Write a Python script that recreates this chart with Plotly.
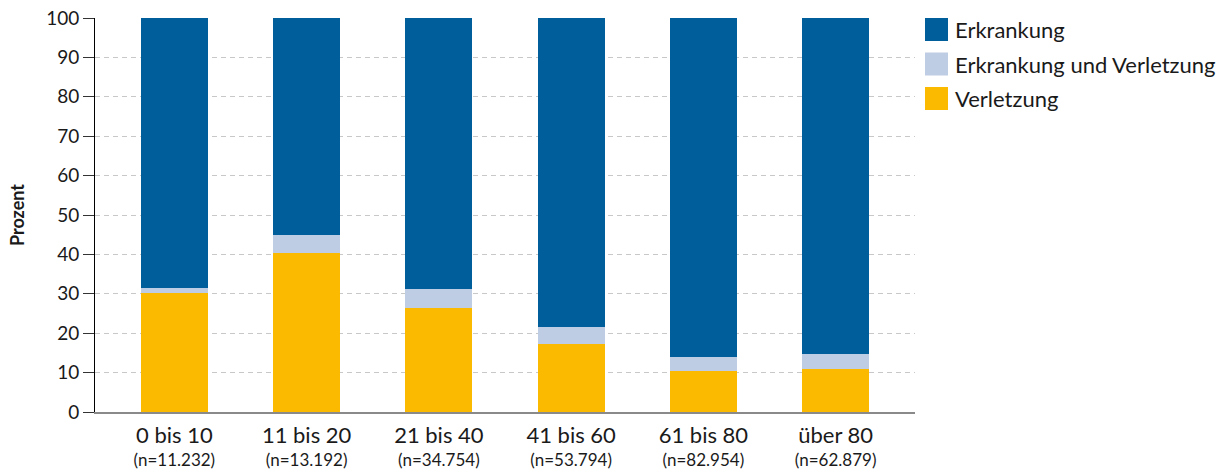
import plotly.graph_objects as go

# data (percent per age group)
groups = ["0 bis 10", "11 bis 20", "21 bis 40", "41 bis 60", "61 bis 80", "über 80"]
counts = ["11.232", "13.192", "34.754", "53.794", "82.954", "62.879"]
verletzung = [30.2, 40.4, 26.5, 17.3, 10.4, 10.9]
beides = [1.3, 4.5, 4.7, 4.3, 3.6, 3.8]
erkrankung = [round(100 - v - b, 1) for v, b in zip(verletzung, beides)]

names = ["Erkrankung", "Erkrankung und Verletzung", "Verletzung"]
colors = ["#005E9B", "#BFCDE4", "#FBB900"]

FONT = "Lato"

# small base font keeps the two label lines close together
labels = [f"<span style='font-size:22px'>{g}</span><br>(n={n})" for g, n in zip(groups, counts)]

fig = go.Figure()
# stacked from bottom: Verletzung, beides, Erkrankung
for name, vals, col in [(names[2], verletzung, colors[2]),
                        (names[1], beides, colors[1]),
                        (names[0], erkrankung, colors[0])]:
    fig.add_trace(go.Bar(x=labels, y=vals, name=name, marker=dict(color=col, line=dict(width=0)),
                         width=0.505, showlegend=False))

# legend drawn by hand so the swatches are as large as in the reference
# (plot area is 820 x 394 px)
shapes = []
annotations = []
for i, (name, col) in enumerate(zip(names, colors)):
    top = i * 34.5
    shapes.append(dict(type="rect", xref="paper", yref="paper",
                       x0=830 / 820, x1=853 / 820,
                       y0=(394 - top - 23) / 394, y1=(394 - top) / 394,
                       fillcolor=col, line=dict(width=0)))
    annotations.append(dict(xref="paper", yref="paper", x=858 / 820, y=(394 - top - 11.5) / 394,
                            text=name, showarrow=False, xanchor="left", yanchor="middle",
                            font=dict(family=FONT, size=22, color="#1a1a1a")))

fig.update_layout(
    barmode="stack",
    width=1231, height=470,
    margin=dict(l=95, r=316, t=18, b=58),
    plot_bgcolor="white", paper_bgcolor="white",
    font=dict(family=FONT, size=19, color="#1a1a1a"),
    shapes=shapes, annotations=annotations,
    xaxis=dict(range=[-0.6, 5.6], showline=True, linecolor="#8a8a8a", linewidth=2,
               ticks="", showgrid=False, tickfont=dict(size=17), automargin=False,
               ticklabelstandoff=9),
    yaxis=dict(range=[0, 100], dtick=10, ticks="outside", ticklen=11, tickcolor="#333333",
               showline=True, linecolor="black", linewidth=1,
               showgrid=True, gridcolor="#c8c8c8", griddash="5px,4px", gridwidth=1,
               zeroline=False, tickfont=dict(size=19), automargin=False,
               ticklabeloverflow="allow",
               title=dict(text="<b>Prozent</b>", font=dict(size=18), standoff=16)),
)

# drop the default 8px page margin so the figure fills the window
fig.write_html("out.html", config={"displayModeBar": False},
               post_script="document.body.style.margin='0';")
